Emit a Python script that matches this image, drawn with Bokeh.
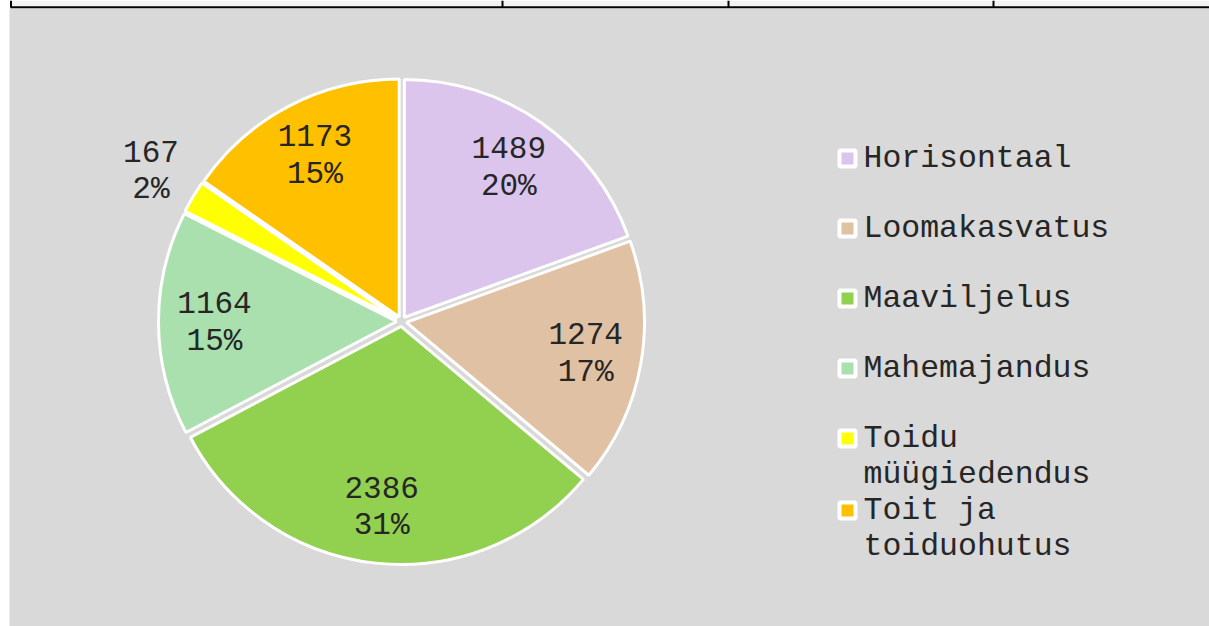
import math
import textwrap
from bokeh.plotting import figure
from bokeh.models import ColumnDataSource, Range1d
from bokeh.embed import file_html
from bokeh.resources import INLINE
from bokeh.core.properties import value

# ---- data ----
categories = ["Horisontaal", "Loomakasvatus", "Maaviljelus", "Mahemajandus",
              "Toidu müügiedendus", "Toit ja toiduohutus"]
counts = [1489, 1274, 2386, 1164, 167, 1173]
colors = ["#dbc5ed", "#e0c1a3", "#92d050", "#a9e0ae", "#ffff00", "#ffc000"]

# ---- layout constants ----
W, H = 1209, 626
BG = "#d9d9d9"
FONT = "Liberation Mono"
TXT = "#262626"
CX, CY = 401, H - 321      # pie centre (data units == pixels)
R = 238                    # pie radius
EXPLODE = 5                # slice explosion offset
LABEL_IN = 187             # inside label distance
LABEL_OUT = 292            # outside label distance (small slices)

total = sum(counts)

# Excel-style percentages (largest remainder, sums to 100)
raw = [c * 100.0 / total for c in counts]
floors = [math.floor(r) for r in raw]
rest = 100 - sum(floors)
order = sorted(range(len(raw)), key=lambda i: raw[i] - floors[i], reverse=True)
pcts = floors[:]
for i in order[:rest]:
    pcts[i] += 1

starts, ends, xs, ys, lx, ly, labels = [], [], [], [], [], [], []
cum = 0
for c, pc in zip(counts, pcts):
    a0 = math.pi / 2 - 2 * math.pi * cum / total
    cum += c
    a1 = math.pi / 2 - 2 * math.pi * cum / total
    mid = (a0 + a1) / 2
    starts.append(a0)
    ends.append(a1)
    xs.append(CX + EXPLODE * math.cos(mid))
    ys.append(CY + EXPLODE * math.sin(mid))
    d = LABEL_OUT if c / total < 0.05 else LABEL_IN
    lx.append(CX + d * math.cos(mid))
    ly.append(CY + d * math.sin(mid))
    labels.append(f"{c}\n{pc}%")

src = ColumnDataSource(dict(x=xs, y=ys, start=starts, end=ends, color=colors,
                            lx=lx, ly=ly, label=labels))

p = figure(width=W, height=H, x_range=Range1d(0, W), y_range=Range1d(0, H),
           x_axis_type=None, y_axis_type=None, output_backend="svg",
           toolbar_location=None, min_border=0)
p.background_fill_color = "white"
p.border_fill_color = "white"
p.outline_line_color = None
p.grid.visible = False

# page decoration: chart area and the table strip above it
p.quad(left=9, right=W, bottom=0, top=H - 8, fill_color=BG, line_color=None)
p.quad(left=11, right=W, bottom=H - 6, top=H, fill_color="#f2f2f2", line_color=None)
p.segment(x0=[10], y0=[H - 6.8], x1=[W], y1=[H - 6.8], line_color="black", line_width=2)
p.segment(x0=[10.5, 502, 728, 993], y0=[H - 7] * 4, x1=[10.5, 502, 728, 993], y1=[H] * 4,
          line_color="black", line_width=2)

p.wedge(x="x", y="y", radius=R, start_angle="start", end_angle="end",
        direction="clock", fill_color="color", line_color="white",
        line_width=3, source=src)

p.text(x="lx", y="ly", text="label", source=src, text_font=value(FONT),
       text_font_size="31px", text_color=TXT, text_align="center",
       text_baseline="middle", text_line_height=1.05)

# ---- legend (manual) ----
LEG_X = 847
LEG_TX = 863
LEG_Y0 = H - 158
ROW = 70
LINE = 36
mx, my, mc = [], [], []
tx, ty, tt = [], [], []
y = LEG_Y0
for cat, col in zip(categories, colors):
    lines = textwrap.wrap(cat, 13)
    mx.append(LEG_X)
    my.append(y)
    mc.append(col)
    for k, ln in enumerate(lines):
        tx.append(LEG_TX)
        ty.append(y - k * LINE)
        tt.append(ln)
    y -= max(ROW, LINE * len(lines))

p.scatter(x=mx, y=my, marker="square", size=16, fill_color=mc,
          line_color="white", line_width=4)
p.text(x=tx, y=ty, text=tt, text_font=value(FONT), text_font_size="31.5px",
       text_color=TXT, text_align="left", text_baseline="middle")

open("out.html", "w").write(file_html(p, INLINE))
